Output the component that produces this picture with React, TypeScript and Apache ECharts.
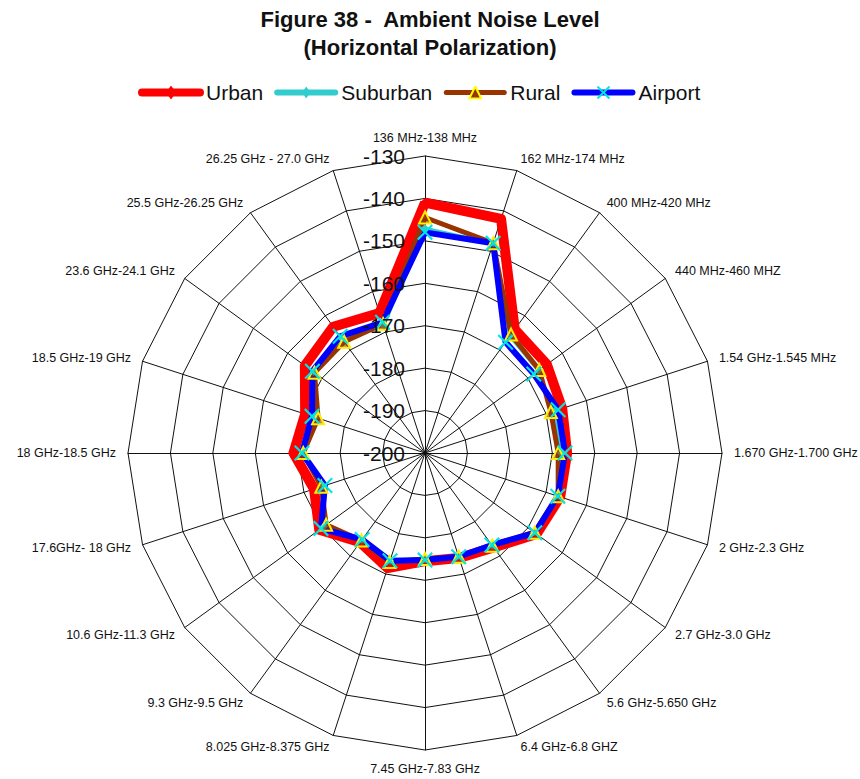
import React, { useEffect, useRef } from "react";
import * as echarts from "echarts";

const categories = [
  "136 MHz-138 MHz",
  "162 MHz-174 MHz",
  "400 MHz-420 MHz",
  "440 MHz-460 MHZ",
  "1.54 GHz-1.545 MHz",
  "1.670 GHz-1.700 GHz",
  "2 GHz-2.3 GHz",
  "2.7 GHz-3.0 GHz",
  "5.6 GHz-5.650 GHz",
  "6.4 GHz-6.8 GHZ",
  "7.45 GHz-7.83 GHz",
  "8.025 GHz-8.375 GHz",
  "9.3 GHz-9.5 GHz",
  "10.6 GHz-11.3 GHz",
  "17.6GHz- 18 GHz",
  "18 GHz-18.5 GHz",
  "18.5 GHz-19 GHz",
  "23.6 GHz-24.1 GHz",
  "25.5 GHz-26.25 GHz",
  "26.25 GHz - 27.0 GHz",
];

const urban = [-141, -142, -164, -164.5, -166, -166.5, -166.5, -167.5, -172.5, -174, -174.5, -171.5, -174, -169.2, -172.5, -169, -170.3, -165, -163.2, -165.3];
const suburban = [-147, -148, -166, -167, -168, -168, -167.3, -168.2, -173, -174.5, -175, -173.3, -174.7, -170.5, -174.8, -171.3, -172.7, -167.5, -166.8, -168.5];
const rural = [-144.5, -148, -165.5, -166.7, -168.8, -168.6, -167, -168, -173, -174.3, -175, -173, -174.5, -171.2, -174.3, -171.3, -173.5, -167.8, -167.6, -168];
const airport = [-148, -148, -167.7, -168.3, -167, -167, -167.1, -168, -173.2, -174.3, -174.8, -173.3, -174.8, -169.7, -175.2, -171, -172, -167.2, -166, -167.6];

const axisMin = -200;
const axisMax = -130;
const axisStep = 10;

const seriesNames = ["Urban", "Suburban", "Rural", "Airport"];

const svgIcon = (body: string) =>
  "image://data:image/svg+xml;charset=utf-8," +
  encodeURIComponent(
    `<svg xmlns='http://www.w3.org/2000/svg' width='66' height='14' viewBox='0 0 66 14'>${body}</svg>`
  );

const legendIcons = [
  svgIcon("<line x1='4' y1='7' x2='62' y2='7' stroke='#FF0000' stroke-width='8' stroke-linecap='round'/><polygon points='33,0 38,7 33,14 28,7' fill='#FF0000'/>"),
  svgIcon("<line x1='4' y1='7' x2='62' y2='7' stroke='#33CCCC' stroke-width='6' stroke-linecap='round'/><polygon points='33,1 37,7 33,13 29,7' fill='#33CCCC'/>"),
  svgIcon("<line x1='4' y1='7' x2='62' y2='7' stroke='#993300' stroke-width='5' stroke-linecap='round'/><polygon points='33,1 39,13 27,13' fill='#993300' stroke='#FFFF00' stroke-width='2'/>"),
  svgIcon("<line x1='4' y1='7' x2='62' y2='7' stroke='#0000FF' stroke-width='6' stroke-linecap='round'/><line x1='27' y1='1' x2='39' y2='13' stroke='#00E5E5' stroke-width='2'/><line x1='39' y1='1' x2='27' y2='13' stroke='#00E5E5' stroke-width='2'/>"),
];

const xSymbol =
  "path://M0,1.5L1.5,0L8,6.5L14.5,0L16,1.5L9.5,8L16,14.5L14.5,16L8,9.5L1.5,16L0,14.5L6.5,8Z";

export default function App() {
  const ref = useRef<HTMLDivElement>(null);

  useEffect(() => {
    document.body.style.margin = "0";
    if (!ref.current) return;
    const chart = echarts.init(ref.current, null, { renderer: "svg" });

    // ECharts radar runs counter-clockwise; reorder so the categories run clockwise.
    const order = [0, ...categories.slice(1).map((_, i) => categories.length - 1 - i)];
    const reorder = (arr: number[]) => order.map((i) => arr[i]);

    const font = "Liberation Sans, Arial, sans-serif";
    const center = [425, 453];
    const radius = 297;
    const splitNumber = (axisMax - axisMin) / axisStep;

    const option: any = {
      animation: false,
      backgroundColor: "#ffffff",
      title: {
        text: "Figure 38 -  Ambient Noise Level\n(Horizontal Polarization)",
        left: "center",
        top: 0,
        padding: [5, 5, 5, 5],
        textStyle: {
          fontFamily: font,
          fontSize: 22,
          fontWeight: "bold",
          color: "#111",
          lineHeight: 28,
        },
      },
      legend: {
        top: 77,
        left: 133,
        itemWidth: 66,
        itemHeight: 14,
        itemGap: 10,
        textStyle: { fontFamily: font, fontSize: 21, color: "#111", padding: [0, 0, 0, -3] },
        data: seriesNames.map((n, i) => ({ name: n, icon: legendIcons[i] })),
        selectedMode: false,
      },
      radar: {
        center,
        radius,
        startAngle: 90,
        shape: "polygon",
        splitNumber,
        nameGap: 12,
        axisName: { color: "#111", fontSize: 12.5, fontFamily: font },
        axisLine: { lineStyle: { color: "#111", width: 1 } },
        splitLine: { lineStyle: { color: "#111", width: 1 } },
        splitArea: { show: false },
        axisTick: { show: false },
        axisLabel: { show: false },
        indicator: order.map((idx) => ({ name: categories[idx], min: axisMin, max: axisMax })),
      },
      // polar overlay that only carries the value tick labels above the series
      polar: { center, radius },
      angleAxis: {
        type: "value",
        min: 0,
        max: 360,
        startAngle: 90,
        show: false,
      },
      radiusAxis: {
        type: "value",
        min: axisMin,
        max: axisMax,
        interval: axisStep,
        z: 10,
        axisLine: { show: false },
        axisTick: { show: false },
        splitLine: { show: false },
        axisLabel: {
          show: true,
          margin: 20,
          fontSize: 21,
          fontFamily: font,
          color: "#111",
        },
      },
      series: [
        {
          type: "radar",
          data: [
            {
              name: "Urban",
              value: reorder(urban),
              symbol: "diamond",
              symbolSize: 10,
              lineStyle: { color: "#FF0000", width: 10 },
              itemStyle: { color: "#FF0000" },
            },
            {
              name: "Suburban",
              value: reorder(suburban),
              symbol: "diamond",
              symbolSize: 8,
              lineStyle: { color: "#33CCCC", width: 3 },
              itemStyle: { color: "#33CCCC" },
            },
            {
              name: "Rural",
              value: reorder(rural),
              symbol: "triangle",
              symbolSize: 12,
              lineStyle: { color: "#993300", width: 5 },
              itemStyle: { color: "rgba(153,51,0,0.6)", borderColor: "#FFEE00", borderWidth: 2 },
            },
            {
              name: "Airport",
              value: reorder(airport),
              symbol: xSymbol,
              symbolSize: 16,
              lineStyle: { color: "#0000FF", width: 6 },
              itemStyle: { color: "#00E5E5", borderWidth: 0 },
            },
          ],
        },
      ],
    };

    chart.setOption(option);
    return () => chart.dispose();
  }, []);

  return <div ref={ref} style={{ width: 860, height: 779 }} />;
}
